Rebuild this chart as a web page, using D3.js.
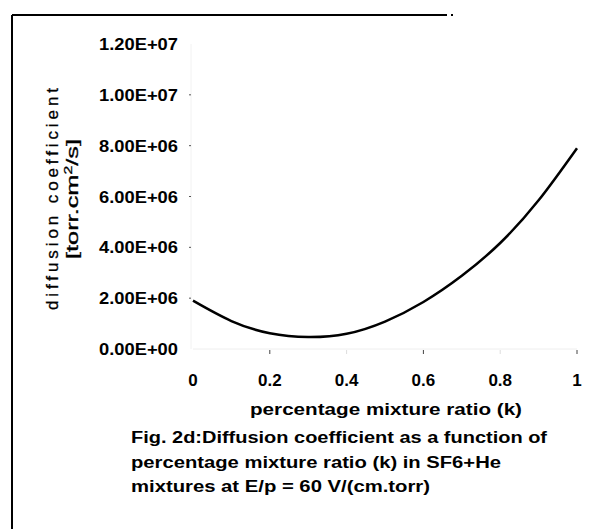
<!DOCTYPE html>
<html>
<head>
<meta charset="utf-8">
<script src="https://cdn.jsdelivr.net/npm/d3@7"></script>
<style>
  body { margin: 0; background: #fff; }
  text { font-family: "Liberation Sans", Arial, sans-serif; }
</style>
</head>
<body>
<script>
// ratio k vs diffusion coefficient
var kValues = [0, 0.1, 0.2, 0.3, 0.4, 0.5, 0.6, 0.7, 0.8, 0.9, 1.0];
var dValues = [1.9e6, 1.1e6, 0.62e6, 0.47e6, 0.6e6, 1.08e6, 1.85e6, 2.88e6, 4.17e6, 5.85e6, 7.9e6];
var xTicks = [0, 0.2, 0.4, 0.6, 0.8, 1];
var yTicks = [0, 2e6, 4e6, 6e6, 8e6, 1e7, 1.2e7];
var yTickLabels = ["0.00E+00", "2.00E+06", "4.00E+06", "6.00E+06", "8.00E+06", "1.00E+07", "1.20E+07"];
var captionLines = [
    "Fig. 2d:Diffusion coefficient as a function of",
    "percentage mixture ratio (k) in SF6+He",
    "mixtures at E/p = 60 V/(cm.torr)"
];

var width = 612, height = 529;
var svg = d3.select("body").append("svg").attr("width", width).attr("height", height);

var x = d3.scaleLinear().domain([0, 1]).range([193, 577]);
var y = d3.scaleLinear().domain([0, 1.2e7]).range([349, 44]);

// frame of the scanned figure
svg.append("line").attr("x1", 12).attr("x2", 12).attr("y1", 15).attr("y2", 529)
    .attr("stroke", "#000").attr("stroke-width", 2);
svg.append("line").attr("x1", 12).attr("x2", 447).attr("y1", 15).attr("y2", 15)
    .attr("stroke", "#000").attr("stroke-width", 2);
svg.append("rect").attr("x", 451).attr("y", 14).attr("width", 2).attr("height", 2).attr("fill", "#000");

// faint axis lines
svg.append("line").attr("x1", x(0)).attr("x2", x(1)).attr("y1", y(0)).attr("y2", y(0))
    .attr("stroke", "#eee");
svg.append("line").attr("x1", x(0) - 2).attr("x2", x(0) - 2).attr("y1", y(0)).attr("y2", y(1.2e7))
    .attr("stroke", "#f2f2f2");

// y ticks + labels
svg.selectAll("line.ytick").data(yTicks.slice(1, 6)).enter().append("line")
    .attr("class", "ytick")
    .attr("x1", x(0) - 4).attr("x2", x(0) - 2)
    .attr("y1", function (d) { return y(d); }).attr("y2", function (d) { return y(d); })
    .attr("stroke", "#555");
svg.selectAll("text.ylab").data(yTicks).enter().append("text")
    .attr("class", "ylab")
    .attr("x", 178)
    .attr("y", function (d) { return y(d); })
    .attr("dy", "0.36em")
    .attr("text-anchor", "end")
    .attr("font-size", 17)
    .attr("font-weight", "bold")
    .attr("textLength", 79)
    .attr("lengthAdjust", "spacingAndGlyphs")
    .text(function (d, i) { return yTickLabels[i]; });

// x ticks + labels
svg.selectAll("line.xtick").data(xTicks.slice(1)).enter().append("line")
    .attr("class", "xtick")
    .attr("x1", function (d) { return x(d); }).attr("x2", function (d) { return x(d); })
    .attr("y1", y(0) + 1).attr("y2", y(0) + 5)
    .attr("stroke", function (d, i) { return i % 2 == 0 ? "#444" : "#ddd"; });
svg.selectAll("text.xlab").data(xTicks).enter().append("text")
    .attr("class", "xlab")
    .attr("x", function (d) { return x(d); })
    .attr("y", 386)
    .attr("text-anchor", "middle")
    .attr("font-size", 17)
    .attr("font-weight", "bold")
    .text(function (d) { return d3.format("")(d); });

// axis titles
svg.append("text")
    .attr("x", 386).attr("y", 415)
    .attr("text-anchor", "middle")
    .attr("font-size", 17).attr("font-weight", "bold")
    .attr("textLength", 272).attr("lengthAdjust", "spacingAndGlyphs")
    .text("percentage mixture ratio (k)");

var ytitle = svg.append("g").attr("transform", "translate(0,199) rotate(-90)");
ytitle.append("text")
    .attr("x", 0).attr("y", 58)
    .attr("text-anchor", "middle")
    .attr("font-size", 17)
    .attr("stroke", "#000").attr("stroke-width", 0.3)
    .attr("textLength", 222).attr("lengthAdjust", "spacing")
    .text("diffusion coefficient");
var t2 = ytitle.append("text")
    .attr("x", 0).attr("y", 78)
    .attr("text-anchor", "middle")
    .attr("font-size", 16)
    .attr("stroke", "#000").attr("stroke-width", 0.3)
    .attr("textLength", 120).attr("lengthAdjust", "spacingAndGlyphs");
t2.append("tspan").text("[torr.cm");
t2.append("tspan").attr("font-size", 10).attr("dy", -6).text("2");
t2.append("tspan").attr("dy", 6).text("/s]");

// curve
var line = d3.line()
    .x(function (d, i) { return x(kValues[i]); })
    .y(function (d) { return y(d); })
    .curve(d3.curveNatural);
svg.append("path")
    .attr("d", line(dValues))
    .attr("fill", "none")
    .attr("stroke", "#000")
    .attr("stroke-width", 2.5);

// caption
svg.selectAll("text.cap").data(captionLines).enter().append("text")
    .attr("class", "cap")
    .attr("x", 131)
    .attr("y", function (d, i) { return 443 + i * 24.5; })
    .attr("font-size", 16)
    .attr("font-weight", "bold")
    .attr("textLength", function (d, i) { return [416, 370, 299][i]; })
    .attr("lengthAdjust", "spacingAndGlyphs")
    .text(function (d) { return d; });
</script>
</body>
</html>
